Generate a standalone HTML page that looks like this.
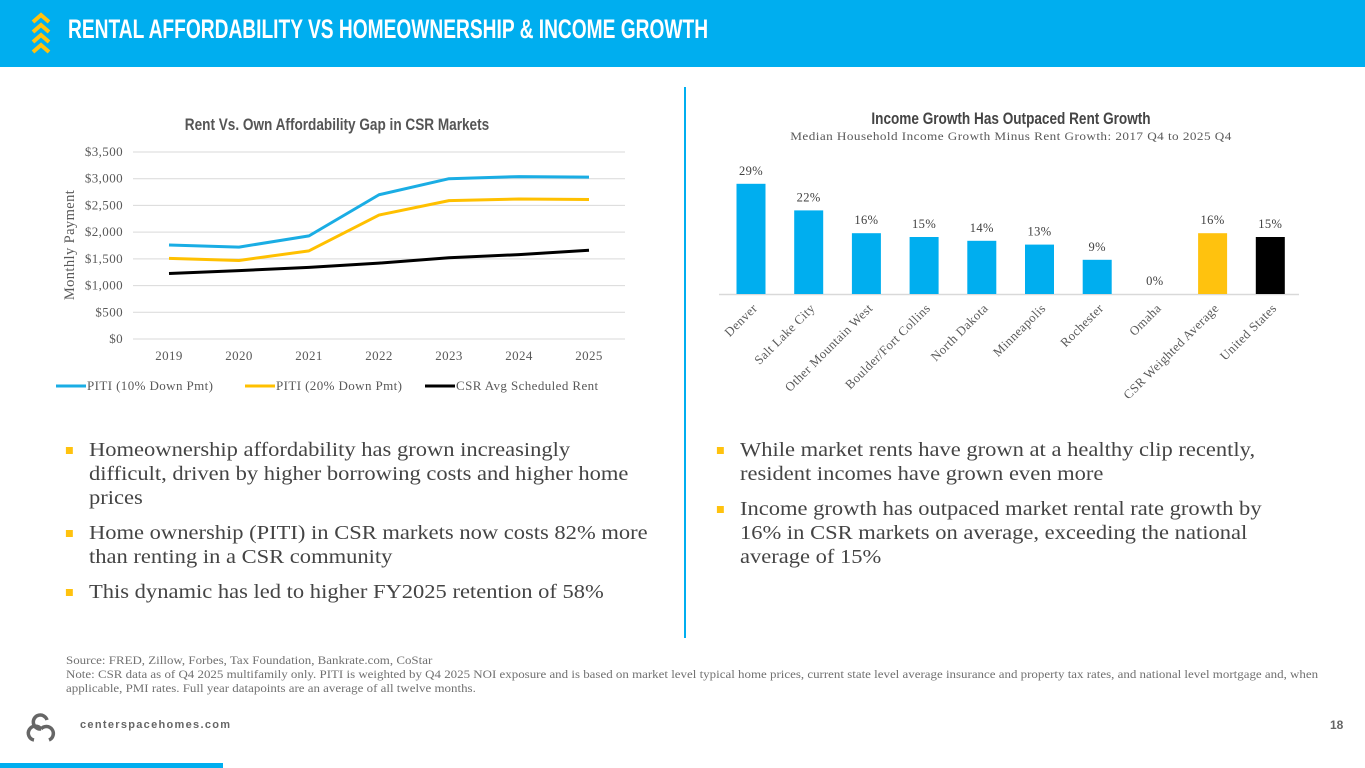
<!DOCTYPE html>
<html><head><meta charset="utf-8"><style>
*{margin:0;padding:0;box-sizing:border-box}
body{width:1365px;height:768px;position:relative;background:#fff;overflow:hidden;font-family:"Liberation Serif",serif;color:#404040}
.abs{position:absolute}
.hdr{left:0;top:0;width:1365px;height:67px;background:#00AEEF}
.title{left:68px;top:14px;font-family:"Liberation Sans",sans-serif;font-weight:bold;font-size:27px;color:#fff;white-space:nowrap;transform:scaleX(0.71);transform-origin:left top}
.bul{font-size:19.5px;line-height:24px;color:#444;white-space:nowrap;transform:scaleX(1.155);transform-origin:left top}
.bul .sq{position:absolute;left:-20px;top:8px;width:6px;height:7px;background:#FFC20E}
.foot{left:66px;top:654px;font-size:11.3px;line-height:14px;color:#707070;white-space:nowrap;transform:scaleX(1.145);transform-origin:left top}
svg text{font-family:"Liberation Serif",serif;letter-spacing:0.4px}
svg text.sans{font-family:"Liberation Sans",sans-serif;letter-spacing:0}
</style></head><body>
<div class="abs hdr"></div>
<svg class="abs" style="left:30px;top:10px" width="22" height="46">
<g fill="none" stroke="#FFC20E" stroke-width="4"><path d="M3 12 L11 5 L19 12"/><path d="M3 22 L11 15 L19 22"/><path d="M3 32 L11 25 L19 32"/><path d="M3 42 L11 35 L19 42"/></g></svg>
<div class="abs title">RENTAL AFFORDABILITY VS HOMEOWNERSHIP &amp; INCOME GROWTH</div>
<div class="abs" style="left:684px;top:87px;width:2px;height:551px;background:#00AEEF"></div>

<svg id="lc" class="abs" style="left:0;top:90px" width="680" height="320"></svg>
<svg id="bc" class="abs" style="left:686px;top:90px" width="679" height="340"></svg>

<div class="abs bul" style="left:89px;top:439px"><span class="sq"></span>Homeownership affordability has grown increasingly<br>difficult, driven by higher borrowing costs and higher home<br>prices</div>
<div class="abs bul" style="left:89px;top:522px"><span class="sq"></span>Home ownership (PITI) in CSR markets now costs 82% more<br>than renting in a CSR community</div>
<div class="abs bul" style="left:89px;top:581px"><span class="sq"></span>This dynamic has led to higher FY2025 retention of 58%</div>
<div class="abs bul" style="left:740px;top:439px"><span class="sq"></span>While market rents have grown at a healthy clip recently,<br>resident incomes have grown even more</div>
<div class="abs bul" style="left:740px;top:498px"><span class="sq"></span>Income growth has outpaced market rental rate growth by<br>16% in CSR markets on average, exceeding the national<br>average of 15%</div>

<div class="abs foot">Source: FRED, Zillow, Forbes, Tax Foundation, Bankrate.com, CoStar<br>Note: CSR data as of Q4 2025 multifamily only. PITI is weighted by Q4 2025 NOI exposure and is based on market level typical home prices, current state level average insurance and property tax rates, and national level mortgage and, when<br>applicable, PMI rates. Full year datapoints are an average of all twelve months.</div>
<svg class="abs" style="left:24px;top:712px" width="34" height="34"><g fill="none" stroke="#666" stroke-width="3.5"><path d="M17 17 A7 7 0 1 1 23 8"/><path d="M17 17 A7 7 0 1 0 10 28"/><path d="M17 17 A7 7 0 1 1 25 28"/></g></svg>
<div class="abs" style="left:80px;top:719px;font-family:'Liberation Sans',sans-serif;font-weight:bold;font-size:11px;letter-spacing:1.3px;color:#666">centerspacehomes.com</div>
<div class="abs" style="left:1330px;top:718px;font-family:'Liberation Sans',sans-serif;font-weight:bold;font-size:12px;color:#666">18</div>
<div class="abs" style="left:0;top:763px;width:223px;height:5px;background:#00AEEF"></div>

<script>
const years=['2019','2020','2021','2022','2023','2024','2025'];
const piti10=[1760,1720,1930,2700,3000,3040,3030];
const piti20=[1510,1470,1650,2320,2590,2620,2610];
const rent=[1225,1280,1340,1420,1520,1580,1660];
const yTicks=[0,500,1000,1500,2000,2500,3000,3500];
const yTickLabels=['$0','$500','$1,000','$1,500','$2,000','$2,500','$3,000','$3,500'];

const cats=['Denver','Salt Lake City','Other Mountain West','Boulder/Fort Collins','North Dakota','Minneapolis','Rochester','Omaha','CSR Weighted Average','United States'];
const growth=[29,22,16,15,14,13,9,0,16,15];
const growthLabels=['29%','22%','16%','15%','14%','13%','9%','0%','16%','15%'];

const NS='http://www.w3.org/2000/svg';
function mk(p,t,a){const e=document.createElementNS(NS,t);for(const k in a)e.setAttribute(k,a[k]);p.appendChild(e);return e;}

const lc=document.getElementById('lc');
const x0=169,xs=70,yb=249,yt=62;
const X=i=>x0+i*xs;
const Y=v=>yb-(v/3500)*(yb-yt);
let t=mk(lc,'text',{class:'sans',x:337,y:40,'text-anchor':'middle','font-size':'17','font-weight':'bold',fill:'#555',transform:'translate(337,0) scale(0.8,1) translate(-337,0)'});t.textContent='Rent Vs. Own Affordability Gap in CSR Markets';

yTicks.forEach((v,i)=>{
  const g=mk(lc,'line',{x1:133,x2:625,y1:Y(v),y2:Y(v),stroke:'#d9d9d9','stroke-width':1});
  
  const l=mk(lc,'text',{x:123,y:Y(v)+4,'text-anchor':'end','font-size':'13',fill:'#595959'});l.textContent=yTickLabels[i];
  
});
years.forEach((y,i)=>{const l=mk(lc,'text',{x:X(i),y:270,'text-anchor':'middle','font-size':'13',fill:'#595959'});l.textContent=y;
  });
t=mk(lc,'text',{x:0,y:0,'text-anchor':'middle','font-size':'14.5',fill:'#595959',transform:'translate(74,155) rotate(-90)'});t.textContent='Monthly Payment';

[[piti10,'#1AADE4','series-piti-10'],[piti20,'#FFC000','series-piti-20'],[rent,'#000','series-rent']].forEach(s=>{
  const p=mk(lc,'polyline',{points:s[0].map((v,i)=>X(i)+','+Y(v)).join(' '),fill:'none',stroke:s[1],'stroke-width':3,'stroke-linejoin':'round'});
  
});
const leg=[['PITI (10% Down Pmt)','#1AADE4',56],['PITI (20% Down Pmt)','#FFC000',245],['CSR Avg Scheduled Rent','#000',425]];
leg.forEach(L=>{const ln=mk(lc,'line',{x1:L[2],x2:L[2]+30,y1:296,y2:296,stroke:L[1],'stroke-width':3});
  
  const tx=mk(lc,'text',{x:L[2]+31,y:300,'font-size':'13',fill:'#595959'});tx.textContent=L[0];
  });

const bc=document.getElementById('bc');
const bx0=65,bstep=57.7,bw=29,bb=204,bpp=3.8;
const BX=i=>bx0+i*bstep;
const BY=v=>bb-v*bpp;
t=mk(bc,'text',{class:'sans',x:325,y:34,'text-anchor':'middle','font-size':'17','font-weight':'bold',fill:'#444',transform:'translate(325,0) scale(0.8,1) translate(-325,0)'});t.textContent='Income Growth Has Outpaced Rent Growth';

t=mk(bc,'text',{x:325,y:50,'text-anchor':'middle','font-size':'12',fill:'#595959',transform:'translate(325,0) scale(1.1,1) translate(-325,0)'});t.textContent='Median Household Income Growth Minus Rent Growth: 2017 Q4 to 2025 Q4';

const ax=mk(bc,'line',{x1:33,x2:613,y1:bb+0.5,y2:bb+0.5,stroke:'#d9d9d9','stroke-width':1.5});

cats.forEach((c,i)=>{
  const col=i===8?'#FFC20E':(i===9?'#000':'#00AEEF');
  const r=mk(bc,'rect',{x:BX(i)-bw/2,y:BY(growth[i]),width:bw,height:growth[i]*bpp,fill:col});
  
  const v=mk(bc,'text',{x:BX(i),y:BY(growth[i])-9,'text-anchor':'middle','font-size':'12.5',fill:'#404040'});v.textContent=growthLabels[i];
  
  const l=mk(bc,'text',{x:0,y:0,'text-anchor':'end','font-size':'12.8',fill:'#595959',transform:'translate('+(BX(i)+7)+','+(bb+15)+') rotate(-45)'});l.textContent=c;
  
});
</script>
</body></html>
